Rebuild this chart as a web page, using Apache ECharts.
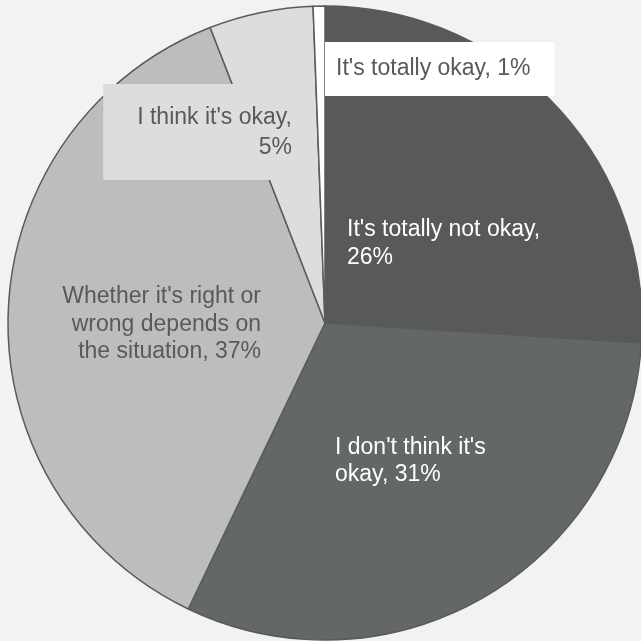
<!DOCTYPE html>
<html>
<head>
<meta charset="utf-8">
<script src="https://cdn.jsdelivr.net/npm/echarts@6/dist/echarts.min.js"></script>
<style>
  html, body { margin: 0; padding: 0; background: #f2f2f2; }
  #main { width: 641px; height: 641px; }
</style>
</head>
<body>
<div id="main"></div>
<script>
// slices, clockwise from 12 o'clock
var names = ["It's totally not okay", "I don't think it's okay", "Whether it's right or wrong depends on the situation", "I think it's okay", "It's totally okay"];
var shares = [26.0, 31.1, 37.0, 5.3, 0.6];      // angles
var shownPct = [26, 31, 37, 5, 1];               // percentages printed in the labels
var labelTexts = [
  "It's totally not okay,\n26%",
  "I don't think it's\nokay, 31%",
  "Whether it's right or\nwrong depends on\nthe situation, 37%",
  "I think it's okay,\n5%",
  "It's totally okay, 1%"
];
var colors = ['#58595b', '#646767', '#bcbdbf', '#dcdddd', '#ffffff'];

// label anchors (layout only)
var labelPos = [
  { x: 347, y: 216, align: 'left' },
  { x: 335, y: 434, align: 'left' },
  { x: 261, y: 283, align: 'right' },
  { x: 306, y: 84, align: 'right' },
  { x: 325, y: 42, align: 'left' }
];
var labelStyle = [
  { color: '#ffffff', lineHeight: 28 },
  { color: '#ffffff', lineHeight: 27 },
  { color: '#595959', lineHeight: 27.5, align: 'right' },
  { color: '#595959', lineHeight: 30, align: 'right', backgroundColor: '#dcdddd', padding: [19, 14, 17, 34] },
  { color: '#595959', lineHeight: 24, backgroundColor: '#ffffff', padding: [15, 24, 15, 11] }
];

var myChart = echarts.init(document.getElementById('main'));

var data = [];
for (var i = 0; i < names.length; i++) {
  var st = labelStyle[i];
  data.push({
    name: names[i],
    value: shares[i],
    itemStyle: { color: colors[i] },
    label: {
      show: true,
      position: 'inside',
      formatter: labelTexts[i],
      color: st.color,
      lineHeight: st.lineHeight,
      align: st.align || 'left',
      backgroundColor: st.backgroundColor || 'transparent',
      padding: st.padding || 0
    }
  });
}

myChart.setOption({
  backgroundColor: '#f2f2f2',
  animation: false,
  series: [{
    type: 'pie',
    center: [325, 323],
    radius: 317,
    startAngle: 90,
    clockwise: true,
    avoidLabelOverlap: false,
    itemStyle: { borderColor: '#5a5a5a', borderWidth: 1.5 },
    label: {
      fontFamily: 'Liberation Sans, Arial, sans-serif',
      fontSize: 23
    },
    labelLine: { show: false },
    labelLayout: function (params) {
      var p = labelPos[params.dataIndex];
      return { x: p.x, y: p.y, align: p.align, verticalAlign: 'top' };
    },
    data: data
  }]
});
</script>
</body>
</html>
